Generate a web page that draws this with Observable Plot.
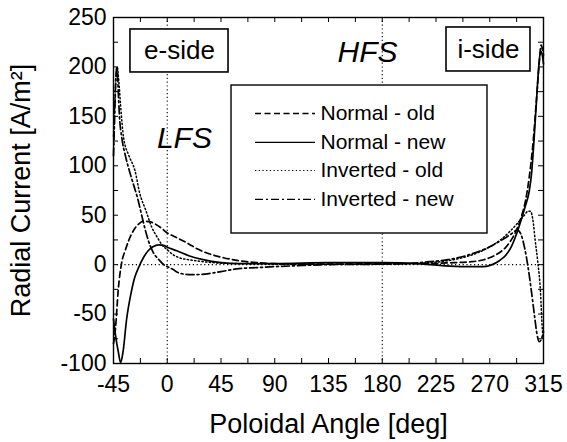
<!DOCTYPE html>
<html>
<head>
<meta charset="utf-8">
<script src="https://cdn.jsdelivr.net/npm/d3@7"></script>
<script src="https://cdn.jsdelivr.net/npm/@observablehq/plot@0.6"></script>
<style>
  html, body { margin: 0; padding: 0; background: #fff; }
  #chart { width: 567px; height: 442px; }
  svg { font-family: "Liberation Sans", Arial, Helvetica, sans-serif; }
</style>
</head>
<body>
<div id="chart"></div>
<script>
// ---- data ----
const seriesNames = ["Normal - old", "Normal - new", "Inverted - old", "Inverted - new"];

const normalOldAngle = [-45,-43.3,-41,-38.3,-35,-32.4,-28,-24,-20,-15,-10,-5,0,5,10,18,25,35,47,60,75,90,120,150,180,210,240,255,265,272,278,283,288,292,296,300,303,306,309,311.5,313,315];
const normalOldValue = [-80,-64,-25,1,15,24,35,41,44,43.5,41,37,32,29,26,21,16,11,7,4,2,1,0.5,0.5,1,1,2,3,5,8,12,17,25,34,47,65,88,120,165,205,222,212];

const normalNewAngle = [-45,-43.5,-41,-39,-37,-34,-30,-27,-24,-20,-16,-12,-7,-3,1,8,18,30,45,60,90,135,180,210,230,250,265,272,278,283,288,293,297,300,303,305,307,309,311,312.5,314,315];
const normalNewValue = [-55,-70,-88,-99,-88,-55,-27,-12,-3,7,14,18,20,19.5,17,14,9,5,2,1,1,2,2,1,-1,-2,-2,0,4,9,18,33,48,60,74,92,125,163,200,216,212,203];

const invertedOldAngle = [-45,-43.5,-42,-40.5,-39,-36.5,-32,-27,-23,-18,-13,-8,-5,0,5,10,18,30,45,60,90,135,180,200,220,235,250,260,270,280,288,294,299,302,304,306.5,308,310,312.5,314,315];
const invertedOldValue = [130,175,200,185,160,128,110,95,72,55,38,27,21,15,10,7,5,3,1.5,1,0.5,0.5,0.5,1,2,4,8,12,18,26,35,43,50,54,54,42,25,5,-28,-65,-74];

const invertedNewAngle = [-45,-44,-43,-42,-41,-40,-38,-35,-31,-28,-25,-22,-19,-16,-12,-7,-3,0,5,9,18,25,35,45,60,75,90,110,135,180,200,220,235,250,260,270,280,288,293,296,299,302,305,307.5,309.5,311.5,313,315];
const invertedNewValue = [110,150,190,200,175,150,128,110,92,80,68,53,38,25,13,5,0,-2,-5,-8,-10,-10,-9,-7,-4,-3,-2,-1,0,0.5,1,3,5,9,13,18,25,31,35,31,18,-2,-28,-52,-70,-78,-76,-68];

const xTickValues = [-45, 0, 45, 90, 135, 180, 225, 270, 315];
const xMinorTicks = [-22.5, 22.5, 67.5, 112.5, 157.5, 202.5, 247.5, 292.5];
const yTickValues = [-100, -50, 0, 50, 100, 150, 200, 250];
const yMinorTicks = [-75, -25, 25, 75, 125, 175, 225];
const refAngles = [0, 180];
const refValues = [0];

const xTitle = "Poloidal Angle [deg]";
const yTitle = "Radial Current [A/m²]";

// annotation boxes and labels (data units)
const boxLabels = [
  {text: "e-side", x1: -30.8, x2: 51.3, y1: 194.4, y2: 237.9},
  {text: "i-side", x1: 233.8, x2: 304.1, y1: 195.4, y2: 239.9}
];
const regionLabels = [
  {text: "HFS", x: 167.7, y: 214.6},
  {text: "LFS", x: 14.4, y: 127.6}
];
const legendBox = {x1: 53.8, x2: 268.1, y1: 31.5, y2: 181.2};
const legendRowY = [152.9, 123.6, 95.2, 66.0];
const legendSampleX = [73.9, 124.1];
const legendTextX = 128.3;

// ---- build ----
const dashes = ["6,3.5", null, "1.3,2.4", "8,3,2,3"];
const series = [
  [normalOldAngle, normalOldValue],
  [normalNewAngle, normalNewValue],
  [invertedOldAngle, invertedOldValue],
  [invertedNewAngle, invertedNewValue]
].map(([a, v], i) => ({name: seriesNames[i], dash: dashes[i], data: a.map((x, j) => ({x, y: v[j]}))}));

const W = 567, H = 442, mL = 113, mR = 24, mT = 17, mB = 79;
const frameW = W - mL - mR, frameH = H - mT - mB;
const tickLen = 5;
const allX = xTickValues.concat(xMinorTicks);
const allY = yTickValues.concat(yMinorTicks);

const marks = [
  // reference lines
  Plot.ruleX(refAngles, {x: d => d, stroke: "black", strokeWidth: 1.1, strokeDasharray: "1.2,2.6"}),
  Plot.ruleY(refValues, {y: d => d, stroke: "black", strokeWidth: 1.1, strokeDasharray: "1.2,2.6"}),
  // curves
  ...series.map(s => Plot.line(s.data, {x: "x", y: "y", curve: "monotone-x", stroke: "black",
      strokeWidth: s.dash === "1.3,2.4" ? 1.5 : 1.7, strokeDasharray: s.dash})),
  // legend
  Plot.rect([legendBox], {x1: "x1", x2: "x2", y1: "y1", y2: "y2", fill: "white", stroke: "black", strokeWidth: 1.4}),
  ...series.map((s, i) => Plot.ruleY([legendRowY[i]], {y: d => d, x1: legendSampleX[0], x2: legendSampleX[1],
      stroke: "black", strokeWidth: s.dash === "1.3,2.4" ? 1.1 : 1.3, strokeDasharray: s.dash})),
  Plot.text(seriesNames, {x: legendTextX, y: (d, i) => legendRowY[i], text: d => d, textAnchor: "start",
      fontSize: 21, fill: "black"}),
  // boxed labels
  Plot.rect(boxLabels, {x1: "x1", x2: "x2", y1: "y1", y2: "y2", fill: "white", stroke: "black", strokeWidth: 1.6}),
  Plot.text(boxLabels, {x: d => (d.x1 + d.x2) / 2, y: d => (d.y1 + d.y2) / 2, text: "text", fontSize: 26, fill: "black"}),
  Plot.text(regionLabels, {x: "x", y: "y", text: "text", fontSize: 30, fontStyle: "italic", fill: "black"}),
  // inward ticks on all four sides
  Plot.tickX(allX, {x: d => d, stroke: "black", strokeWidth: 1, insetTop: frameH - tickLen}),
  Plot.tickX(allX, {x: d => d, stroke: "black", strokeWidth: 1, insetBottom: frameH - tickLen}),
  Plot.tickY(allY, {y: d => d, stroke: "black", strokeWidth: 1, insetRight: frameW - tickLen}),
  Plot.tickY(allY, {y: d => d, stroke: "black", strokeWidth: 1, insetLeft: frameW - tickLen}),
  // tick labels
  Plot.axisX(xTickValues, {anchor: "bottom", tickSize: 0, tickPadding: 12, fontSize: 23, tickFormat: d => String(d), label: null}),
  Plot.axisY(yTickValues, {anchor: "left", tickSize: 0, tickPadding: 7, fontSize: 23, tickFormat: d => String(d), label: null}),
  // titles
  Plot.text([xTitle], {frameAnchor: "bottom", dy: 69, lineAnchor: "bottom", textAnchor: "middle", text: d => d, fontSize: 27, fill: "black"}),
  Plot.text([yTitle], {frameAnchor: "left", dx: -92, rotate: -90, textAnchor: "middle", lineAnchor: "middle", text: d => d, fontSize: 27, fill: "black"}),
  Plot.frame({stroke: "black", strokeWidth: 1.4})
];

const chart = Plot.plot({
  width: W, height: H,
  marginLeft: mL, marginRight: mR, marginTop: mT, marginBottom: mB,
  x: {domain: [-45, 315], axis: null},
  y: {domain: [-100, 250], axis: null},
  style: {fontFamily: "'Liberation Sans', Arial, Helvetica, sans-serif", color: "black", background: "white", overflow: "visible"},
  marks
});
document.getElementById("chart").appendChild(chart);
</script>
</body>
</html>
